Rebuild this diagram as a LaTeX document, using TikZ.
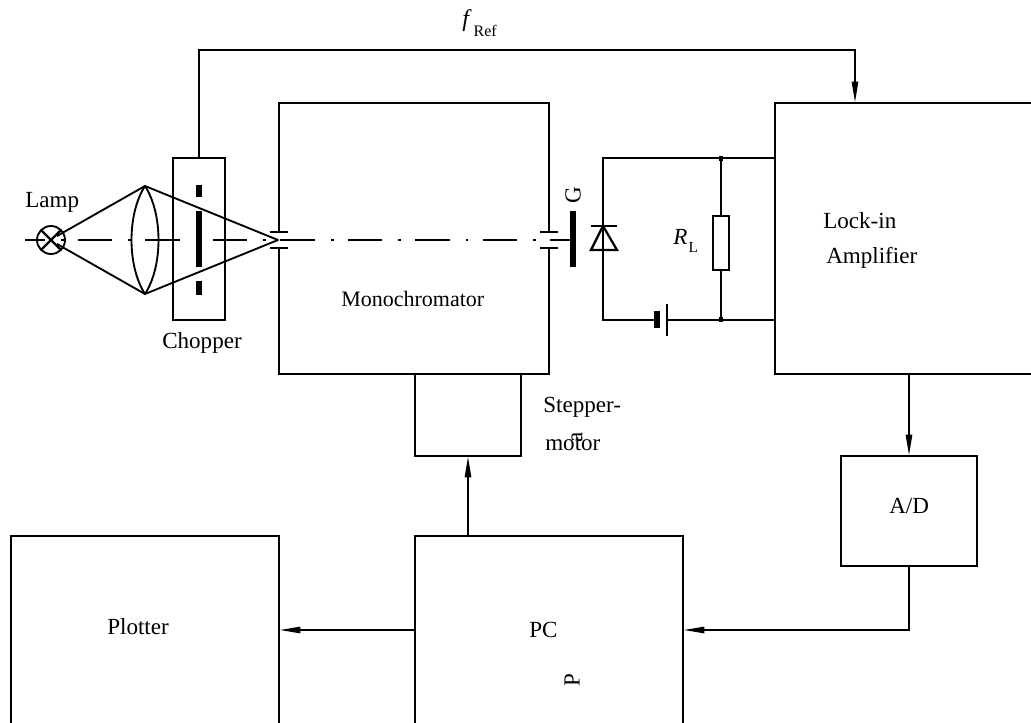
\documentclass[tikz,border=0pt]{standalone}
\usepackage{fontspec}
\setmainfont{Liberation Serif}
\usetikzlibrary{arrows.meta}
\tikzset{
  wire/.style={line width=1.7pt,line cap=butt,line join=miter},
  thin wire/.style={line width=1.4pt,line join=round},
  sig/.style={wire,-{Stealth[length=16pt,width=4.6pt,inset=0pt]}},
  boxed/.style={draw,line width=1.7pt,inner sep=0pt,outer sep=0pt},
  frame/.style={inner sep=0pt,outer sep=0pt},
  bar/.style={line width=4.2pt,line cap=butt},
  lbl/.style={inner sep=0pt,anchor=base west,font=\fontsize{17.3pt}{20pt}\selectfont},
  vlbl/.style={inner sep=0pt,rotate=90,font=\fontsize{17.3pt}{20pt}\selectfont},
  axisline/.style={line width=1.5pt,dash pattern=on 25.9pt off 12pt on 2pt off 10.7pt,dash phase=10.9pt}
}
\begin{document}
\begin{tikzpicture}[x=0.75pt,y=-0.75pt]
\useasboundingbox (0,0) rectangle (1031,723);
% boxes (px centre coordinates)
\node[boxed,minimum width=39pt,minimum height=121.5pt] (chopper) at (199,239) {};
\node[frame,minimum width=202.5pt,minimum height=203.25pt] (mono) at (414,238.5) {};
\node[boxed,minimum width=79.5pt,minimum height=61.5pt] (stepper) at (468,415) {};
\node[boxed,minimum width=102pt,minimum height=82.5pt] (ad) at (909,511) {};
\node[frame,minimum width=192pt,minimum height=203.25pt] (lockin) at (903,238.5) {};
\node[frame,minimum width=201pt,minimum height=141pt] (pc) at (549,630) {};
\node[frame,minimum width=201pt,minimum height=141pt] (plotter) at (145,630) {};
\draw[wire] (lockin.north east)--(lockin.north west)--(lockin.south west)--(lockin.south east);
\draw[wire] (pc.south west)--(pc.north west)--(pc.north east)--(pc.south east);
\draw[wire] (plotter.south west)--(plotter.north west)--(plotter.north east)--(plotter.south east);
% monochromator with slits
\coordinate (lamp) at (51,240);
\coordinate (lensT) at (145,186);
\coordinate (lensB) at (145,294);
\coordinate (focus) at (278,240);
\coordinate (gbar) at (573,240);
\draw[wire] (279,232)--(mono.north west)--(mono.north east)--(549,232);
\draw[wire] (279,248)--(mono.south west)--(mono.south east)--(549,248);
\draw[wire] (270,232)--(288,232) (270,248)--(288,248);
\draw[wire] (540,232)--(558,232) (540,248)--(558,248);
% optical axis
\draw[axisline] (25,240)--(gbar);
% lamp
\node[draw,line width=1.4pt,circle,minimum size=21pt,inner sep=0pt,outer sep=0pt] (lampc) at (lamp) {};
\draw[wire] (lampc.45)--(lampc.225) (lampc.135)--(lampc.315);
% rays and lens
\draw[thin wire] (57,236)--(lensT)--(focus)--(lensB)--(57,244);
\draw[thin wire] (lensT) .. controls (127,214) and (127,266) .. (lensB) .. controls (163,266) and (163,214) .. (lensT);
% chopper blades
\draw[bar] (199,185)--(199,197);
\draw[bar] (199,211)--(199,267);
\draw[bar] (199,281)--(199,295);
% grating
\draw[bar] (573,211)--(573,267);
% detector circuit
\coordinate (dTop) at (603,158);
\coordinate (dBot) at (603,320);
\coordinate (rTop) at (721,158);
\coordinate (rBot) at (721,320);
\draw[wire] (lockin.west |- dTop)--(dTop)--(dBot)--(657,320);
\draw[wire] (667,320)--(lockin.west |- dBot);
\draw[wire] (603,226)--(591,250)--(617,250)--cycle;
\draw[wire] (591,226)--(617,226);
\draw[bar] (657,311)--(657,328);
\draw[wire] (667,304)--(667,336);
\node[boxed,minimum width=12pt,minimum height=41pt] (rl) at (721,243) {};
\draw[wire] (rTop)--(rl.north) (rl.south)--(rBot);
\fill (rTop) ++(-2,-2) rectangle ++(4,5);
\fill (rBot) ++(-2,-3) rectangle ++(4,5);
% signal connectors
\coordinate (refc) at (855,50);
\draw[sig] (chopper.north) |- (refc) -- (refc |- lockin.north);
\draw[sig] (ad.north |- lockin.south) -- (ad.north);
\draw[sig] (ad.south) |- (pc.east);
\draw[sig] (pc.west) -- (plotter.east);
\draw[sig] (stepper.south |- pc.north) -- (stepper.south);
% labels
\node[lbl] (tLamp) at (25,208) {Lamp};
\node[lbl] (tChop) at (162,349) {Chopper};
\node[lbl,font=\fontsize{16.5pt}{20pt}\selectfont] (tMono) at (341,307) {Monochromator};
\node[lbl] (tStep) at (543,412) {Stepper-};
\node[lbl] (tMot) at (545,450) {motor};
\node[vlbl] (tA) at (577,437) {a};
\node[vlbl] (tG) at (573,195) {G};
\node[lbl] (tLock) at (823,229) {Lock-in};
\node[lbl] (tAmp) at (826,264) {Amplifier};
\node[lbl] (tAD) at (889,513) {A/D};
\node[lbl] (tPlot) at (107,634) {Plotter};
\node[lbl] (tPC) at (529,637) {PC};
\node[vlbl] (tP) at (572,680) {P};
\node[lbl] (tR) at (673,245) {\textit{R}\fontsize{11.5pt}{12pt}\selectfont\hspace{1pt}\raisebox{-6pt}{L}};
\node[lbl] (tF) at (462,27) {\fontsize{18pt}{20pt}\selectfont\textit{f}\fontsize{12pt}{12pt}\selectfont\raisebox{-7.5pt}{\hspace{1.5pt}Ref}};
\end{tikzpicture}
\end{document}
